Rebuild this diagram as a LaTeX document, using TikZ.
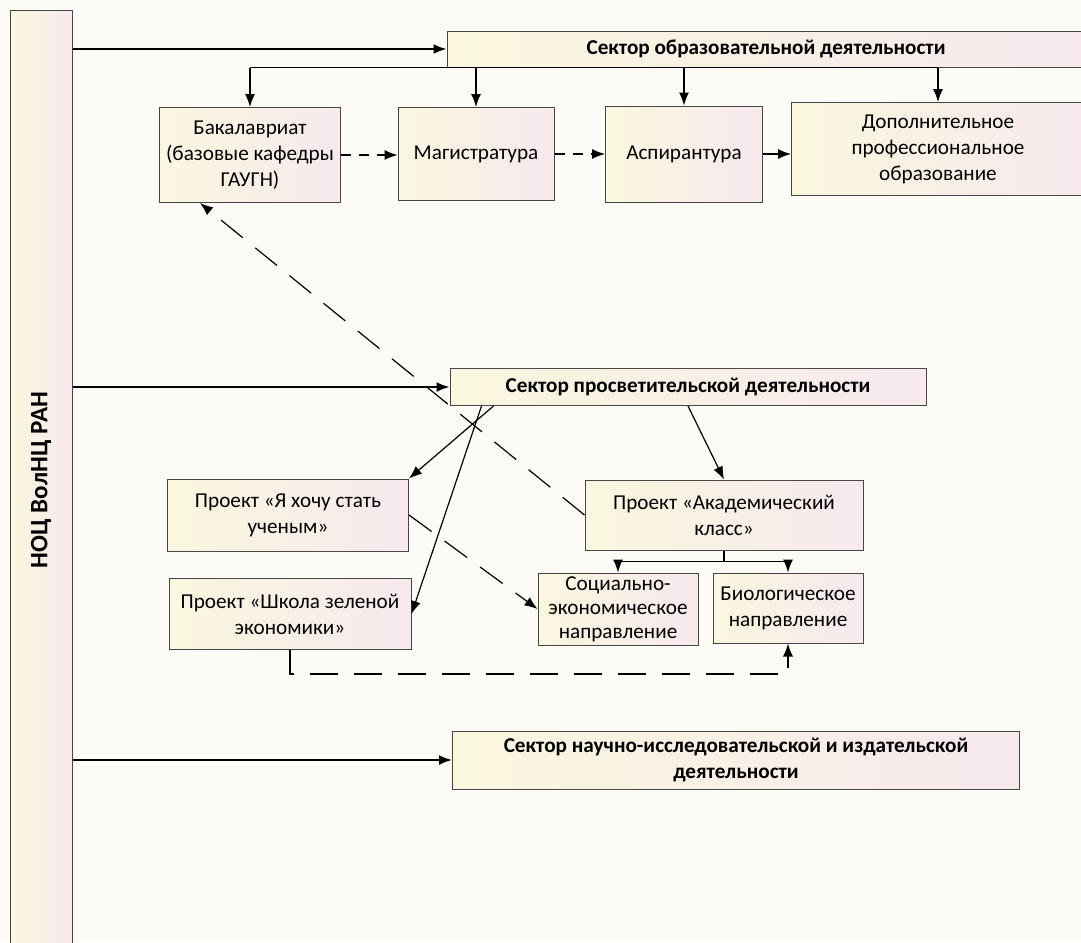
\documentclass[tikz,border=0pt]{standalone}
\usepackage{fontspec}
\setmainfont{Carlito}
\usetikzlibrary{arrows.meta}
\definecolor{paper}{RGB}{252,251,245}
\definecolor{boxcream}{RGB}{250,247,222}
\definecolor{boxpink}{RGB}{247,233,238}
\definecolor{boxline}{RGB}{70,70,70}
\begin{document}
\begin{tikzpicture}[x=0.5pt,y=-0.5pt,
    >={Latex[length=6.5pt,width=5pt]},
    box/.style={draw=boxline,line width=0.5pt,left color=boxcream,right color=boxpink,
        align=center,inner ysep=0pt,font=\fontsize{10.6}{13}\selectfont},
    sector/.style={box,font=\fontsize{10.6}{13}\selectfont\bfseries},
    bar/.style={box,font=\fontsize{12.5}{14}\selectfont\bfseries},
    main/.style={->,line width=0.9pt},
    link/.style={->,line width=0.6pt},
    shortdash/.style={link,dash pattern=on 5pt off 4pt},
    longdash/.style={link,dash pattern=on 14pt off 8pt}]
                \useasboundingbox (0,0) rectangle (1081,942);
                \fill[paper] (0,0) rectangle (1081,942);
                % left bar
                \node[bar,minimum width=31pt,minimum height=470pt](NOC) at (41,480) {\rotatebox{90}{НОЦ ВолНЦ РАН}};
                % sectors
                \node[sector,minimum width=319pt,minimum height=18pt](OBR) at (766,49) {Сектор образовательной деятельности};
                \node[sector,minimum width=238pt,minimum height=18.5pt](PROS) at (688,387) {Сектор просветительской деятельности};
                \node[sector,minimum width=283.5pt,minimum height=29pt](NAUCH) at (736,760) {Сектор научно-исследовательской и издательской\\деятельности};
                % education
                \node[box,minimum width=88.5pt,minimum height=47.5pt](BAK) at (250,155) {Бакалавриат\\(базовые кафедры\\ГАУГН)};
                \node[box,minimum width=78pt,minimum height=46.5pt](MAG) at (476,154) {Магистратура};
                \node[box,minimum width=78.5pt,minimum height=48pt](ASP) at (684,154) {Аспирантура};
                \node[box,minimum width=146.5pt,minimum height=46.5pt](DOP) at (938,149) {Дополнительное\\профессиональное\\образование};
                % projects
                \node[box,minimum width=120.5pt,minimum height=36pt](YA) at (288,515) {Проект «Я хочу стать\\ученым»};
                \node[box,minimum width=121pt,minimum height=35.5pt](SHK) at (290,614) {Проект «Школа зеленой\\экономики»};
                \node[box,minimum width=139pt,minimum height=35pt](AKAD) at (724,515) {Проект «Академический\\класс»};
                \node[box,minimum width=80pt,minimum height=36pt,font=\fontsize{10.6}{12}\selectfont](SOC) at (618,609) {Социально-\\экономическое\\направление};
                \node[box,minimum width=75pt,minimum height=35pt](BIO) at (788,608) {Биологическое\\направление};
                % from the bar
                \draw[main] (NOC.east |- OBR.west) -- (OBR.west);
                \draw[main] (NOC.east |- PROS.west) -- (PROS.west);
                \draw[main] (NOC.east |- NAUCH.west) -- (NAUCH.west);
                % education sector
                \draw[line width=0.9pt] (BAK.north |- OBR.south) -- (DOP.north |- OBR.south);
                \draw[link] (BAK.north |- OBR.south) -- (BAK.north);
                \draw[link] (MAG.north |- OBR.south) -- (MAG.north);
                \draw[link] (ASP.north |- OBR.south) -- (ASP.north);
                \draw[link] (DOP.north |- OBR.south) -- (DOP.north);
                \draw[shortdash] (BAK.east) -- (MAG.west |- BAK.east);
                \draw[shortdash] (MAG.east) -- (ASP.west |- MAG.east);
                \draw[link] (ASP.east) -- (DOP.west |- ASP.east);
                % enlightenment sector
                \draw[link] ([xshift=22pt]PROS.south west) -- (YA.north east);
                \draw[link] ([xshift=16pt]PROS.south west) -- (SHK.east);
                \draw[link] (PROS.south) -- (AKAD.north);
                \draw[link] (AKAD.south) -- ++(0,11) -| (SOC.north);
                \draw[link] (AKAD.south) -- ++(0,11) -| (BIO.north);
                \draw[longdash] (YA.east) -- (SOC.west);
                \draw[longdash] (SHK.south) -- ++(0,24) -| (BIO.south);
                \draw[longdash] (AKAD.west) -- ([xshift=-25pt]BAK.south);
            \end{tikzpicture}
\end{document}
